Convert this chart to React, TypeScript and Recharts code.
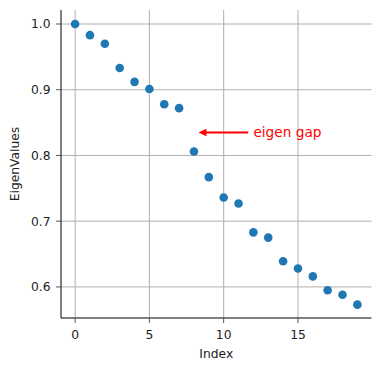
import { ScatterChart, Scatter, XAxis, YAxis, ReferenceLine, ReferenceDot } from "recharts"

const indices = [0, 1, 2, 3, 4, 5, 6, 7, 8, 9, 10, 11, 12, 13, 14, 15, 16, 17, 18, 19]
const eigenValues = [
  1.0, 0.983, 0.97, 0.933, 0.912, 0.901, 0.878, 0.872, 0.806, 0.767,
  0.736, 0.727, 0.683, 0.675, 0.639, 0.628, 0.616, 0.595, 0.588, 0.573,
]
const xTicks = [0, 5, 10, 15]
const yTicks = [0.6, 0.7, 0.8, 0.9, 1.0]

// annotation: arrow from text towards the gap
const gapLabel = "eigen gap"
const gapTextPos = { x: 12, y: 0.835 }
const arrowFrom = { x: 11.65, y: 0.835 }
const arrowTo = { x: 8.3, y: 0.835 }

const data = indices.map((i) => ({ index: i, value: eigenValues[i] }))

const FONT = "'DejaVu Sans', sans-serif"
const GRID = "#b0b0b0"
const FS = 12.3

const Arrow = (props: any) => {
  const { x1, y1, x2, y2 } = props
  const dir = x2 < x1 ? 1 : -1
  const headLen = 8
  const headHalf = 3.8
  return (
    <g>
      <line x1={x1} y1={y1} x2={x2 + dir * (headLen - 1)} y2={y2} stroke="red" strokeWidth={2} />
      <polygon
        points={`${x2},${y2} ${x2 + dir * headLen},${y2 - headHalf} ${x2 + dir * headLen},${y2 + headHalf}`}
        fill="red"
      />
    </g>
  )
}

export default function App() {
  return (
    <div style={{ position: "absolute", left: 0, top: 0, fontFamily: FONT }}>
      <ScatterChart width={381} height={371} margin={{ top: 10, right: 9.5, bottom: 0, left: 0 }}>
        <XAxis
          type="number"
          dataKey="index"
          domain={[-0.95, 19.95]}
          ticks={xTicks}
          allowDataOverflow
          height={53}
          tickSize={5}
          tickMargin={7}
          stroke="#000"
          tickLine={{ stroke: "#555" }}
          tick={{ fill: "#222", fontSize: FS, fontFamily: FONT }}
          label={{ value: "Index", position: "insideBottom", offset: 13, fill: "#222", fontSize: FS, fontFamily: FONT }}
        />
        <YAxis
          type="number"
          dataKey="value"
          domain={[0.5527, 1.0213]}
          ticks={yTicks}
          allowDataOverflow
          width={61}
          tickSize={5}
          tickMargin={5.5}
          stroke="#000"
          tickLine={{ stroke: "#555" }}
          tickFormatter={(v: number) => v.toFixed(1)}
          tick={{ fill: "#222", fontSize: FS, fontFamily: FONT }}
          label={{ value: "EigenValues", angle: -90, position: "insideLeft", offset: 15, fill: "#222", fontSize: FS, fontFamily: FONT, style: { textAnchor: "middle" } }}
        />
        <Scatter data={data} fill="#1f77b4" isAnimationActive={false} shape={(p: any) => <circle cx={p.cx} cy={p.cy} r={4.3} fill="#1f77b4" />} />
        {xTicks.map((t) => (
          <ReferenceLine key={"gx" + t} x={t} stroke={GRID} strokeWidth={1} />
        ))}
        {yTicks.map((t) => (
          <ReferenceLine key={"gy" + t} y={t} stroke={GRID} strokeWidth={1} />
        ))}
        <ReferenceLine segment={[arrowFrom, arrowTo]} shape={Arrow} />
        <ReferenceDot
          x={gapTextPos.x}
          y={gapTextPos.y}
          r={0}
          fill="none"
          stroke="none"
          label={{ value: gapLabel, position: "right", offset: 0, fill: "red", fontSize: 13.7, fontFamily: FONT }}
        />
      </ScatterChart>
    </div>
  )
}
